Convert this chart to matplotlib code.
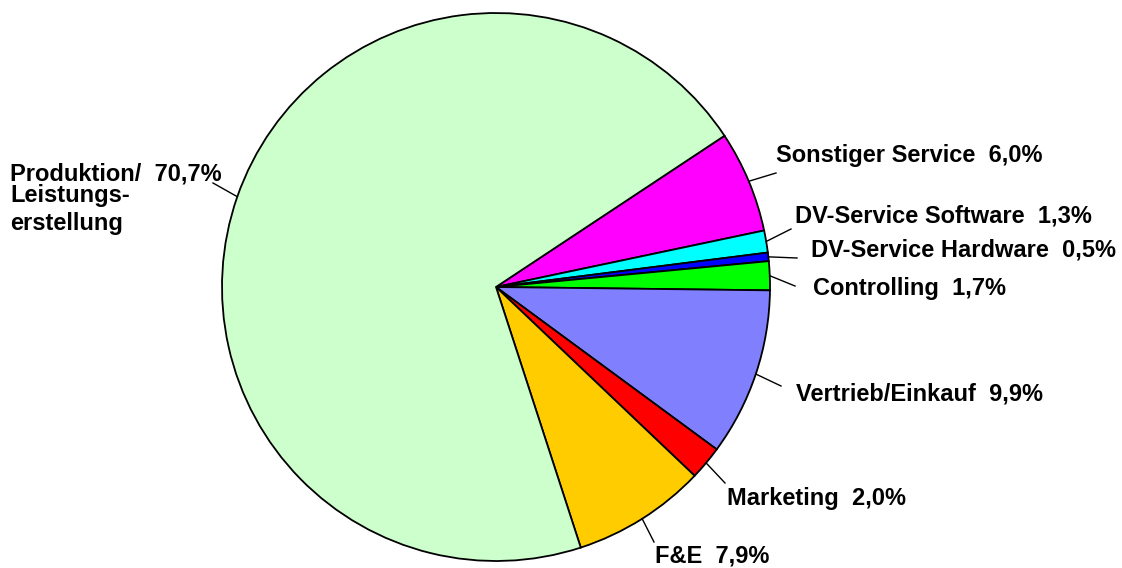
import numpy as np
import matplotlib
matplotlib.use("Agg")
import matplotlib.pyplot as plt

categories = ["Sonstiger Service", "DV-Service Software", "DV-Service Hardware",
              "Controlling", "Vertrieb/Einkauf", "Marketing", "F&E",
              "Produktion/"]
values = [6.0, 1.3, 0.5, 1.7, 9.9, 2.0, 7.9, 70.7]
value_labels = ["6,0%", "1,3%", "0,5%", "1,7%", "9,9%", "2,0%", "7,9%", "70,7%"]
colors = ["#FF00FF", "#00FFFF", "#0000FF", "#00FF00", "#8080FF", "#FF0000",
          "#FFCC00", "#CCFFCC"]

W, H = 1122, 568
fig = plt.figure(figsize=(W / 100, H / 100), dpi=100)
ax = fig.add_axes([0, 0, 1, 1])

cx, cy, r = 496, H - 287, 274
wedges, _ = ax.pie(values, colors=colors, startangle=33.5, counterclock=False,
                   center=(cx, cy), radius=r, frame=True,
                   wedgeprops=dict(edgecolor="black", linewidth=1.3))
ax.set_xlim(0, W)
ax.set_ylim(0, H)
ax.set_aspect("equal")
ax.axis("off")

# label layout (pixel coords from top): text left x, text baseline y, line end x, line end y
layout = [
    (776, 162, 776, 173),
    (795, 223, 791, 229),
    (811, 257, 797, 258),
    (813, 295, 795, 286),
    (796, 400, 781, 386),
    (727, 505, 725, 483),
    (655, 563, 654, 542),
    (10, 181, 213, 183),
]

font = dict(family=["Liberation Sans", "DejaVu Sans"], fontweight="bold", fontsize=17)

for i, (w, cat, vl) in enumerate(zip(wedges, categories, value_labels)):
    mid = np.deg2rad((w.theta1 + w.theta2) / 2)
    ex, ey = cx + r * np.cos(mid), cy + r * np.sin(mid)
    tx, ty, lx, ly = layout[i]
    ax.plot([ex, lx], [ey, H - ly], color="black", lw=1.0)
    ax.text(tx, H - ty, f"{cat}  {vl}", va="baseline", ha="left", **font)
    if cat == "Produktion/":
        ax.text(tx, H - 202, "Leistungs-", va="baseline", ha="left", **font)
        ax.text(tx, H - 230, "erstellung", va="baseline", ha="left", **font)

fig.savefig("out.png", dpi=100, facecolor="white")
